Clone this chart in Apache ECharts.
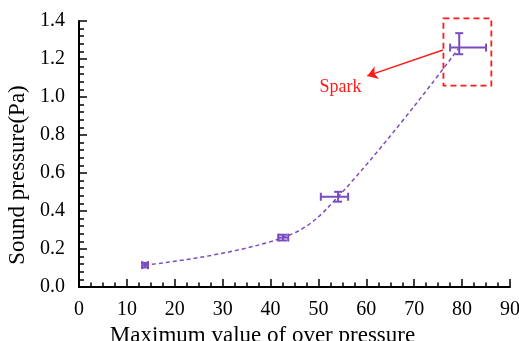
<!DOCTYPE html>
<html><head><meta charset="utf-8">
<script src="https://cdn.jsdelivr.net/npm/echarts@6/dist/echarts.min.js"></script>
<style>html,body{margin:0;padding:0;background:#fff}#c{width:519px;height:341px}</style>
</head><body><div id="c"></div>
<script>
// Data
var xVals = [13.8, 42.6, 54.1, 79.4];
var yVals = [0.115, 0.26, 0.475, 1.26];
var xErrLow = [0.6, 1.0, 3.6, 1.9];
var xErrHigh = [0.6, 1.1, 2.1, 5.6];
var yErrLow = [0.012, 0.015, 0.026, 0.035];
var yErrHigh = [0.012, 0.015, 0.026, 0.076];
var xTicks = [0, 10, 20, 30, 40, 50, 60, 70, 80, 90];
var yTicks = [0.0, 0.2, 0.4, 0.6, 0.8, 1.0, 1.2, 1.4];
// annotation in data coords
var boxX = [76.1, 86.1];
var boxY = [1.06, 1.414];
var arrowFrom = [76.0, 1.247];
var arrowTo = [60.2, 1.111];
var sparkPos = [54.6, 1.05];

var purple = '#7b4cc0';
var red = '#ff1a1a';
var font = '"Liberation Serif", "Times New Roman", serif';

var chart = echarts.init(document.getElementById('c'));
var pts = xVals.map(function (x, i) { return [x, yVals[i]]; });
var errData = xVals.map(function (x, i) {
  return [x, yVals[i], x - xErrLow[i], x + xErrHigh[i], yVals[i] - yErrLow[i], yVals[i] + yErrHigh[i]];
});

var option = {
  animation: false,
  grid: { left: 79, right: 9, top: 21, bottom: 54, containLabel: false, outerBoundsMode: 'none' },
  xAxis: {
    type: 'value', min: 0, max: 90, interval: 10,
    name: 'Maximum value of over pressure', nameLocation: 'middle', nameGap: 32,
    nameTextStyle: { fontFamily: font, fontSize: 23, color: '#000', padding: [0, 64, 0, 0] },
    axisLine: { show: true, onZero: false, lineStyle: { color: '#000', width: 2 } },
    axisTick: { show: true, inside: true, length: 8, lineStyle: { color: '#000', width: 1.5 } },
    minorTick: { show: true, splitNumber: 4, length: 4.5, lineStyle: { color: '#000', width: 1.5 } },
    splitLine: { show: false },
    axisLabel: { fontFamily: font, fontSize: 20, color: '#000', margin: 13,
      formatter: function (v) { return xTicks.indexOf(v) >= 0 ? String(v) : ''; } }
  },
  yAxis: {
    type: 'value', min: 0, max: 1.4, interval: 0.2,
    name: 'Sound pressure(Pa)', nameLocation: 'middle', nameGap: 47,
    nameTextStyle: { fontFamily: font, fontSize: 23, color: '#000', padding: [0, 42, 0, 0] },
    axisLine: { show: true, onZero: false, lineStyle: { color: '#000', width: 2 } },
    axisTick: { show: true, inside: true, length: 8, lineStyle: { color: '#000', width: 1.5 } },
    minorTick: { show: true, splitNumber: 5, length: 5, lineStyle: { color: '#000', width: 1.5 } },
    splitLine: { show: false },
    axisLabel: { fontFamily: font, fontSize: 20, color: '#000', margin: 14,
      formatter: function (v) { var t = yTicks.filter(function (k) { return Math.abs(k - v) < 1e-9; }); return t.length ? t[0].toFixed(1) : ''; } }
  },
  series: [
    {
      type: 'line', data: pts, smooth: 0.4, symbol: 'none',
      lineStyle: { color: purple, width: 1.5, type: [4, 3] }, z: 2,
      markLine: {
        silent: true, symbol: ['none', 'arrow'], symbolSize: 10,
        label: { show: false },
        lineStyle: { color: red, width: 1.5, type: 'solid' },
        itemStyle: { color: red },
        data: [[{ coord: arrowFrom }, { coord: arrowTo }]]
      },
      markPoint: {
        silent: true, symbol: 'circle', symbolSize: 0,
        data: [{ coord: sparkPos, label: { show: true, formatter: 'Spark', color: red, fontFamily: font, fontSize: 18 } }]
      }
    },
    {
      type: 'custom', data: errData, z: 3, clip: false,
      renderItem: function (params, api) {
        var c = api.coord([api.value(0), api.value(1)]);
        var xl = api.coord([api.value(2), api.value(1)]);
        var xh = api.coord([api.value(3), api.value(1)]);
        var yl = api.coord([api.value(0), api.value(4)]);
        var yh = api.coord([api.value(0), api.value(5)]);
        var cap = 4;
        var st = { stroke: purple, lineWidth: 2 };
        return { type: 'group', children: [
          { type: 'line', shape: { x1: xl[0], y1: c[1], x2: xh[0], y2: c[1] }, style: st },
          { type: 'line', shape: { x1: xl[0], y1: c[1] - cap, x2: xl[0], y2: c[1] + cap }, style: st },
          { type: 'line', shape: { x1: xh[0], y1: c[1] - cap, x2: xh[0], y2: c[1] + cap }, style: st },
          { type: 'line', shape: { x1: c[0], y1: yl[1], x2: c[0], y2: yh[1] }, style: st },
          { type: 'line', shape: { x1: c[0] - cap, y1: yl[1], x2: c[0] + cap, y2: yl[1] }, style: st },
          { type: 'line', shape: { x1: c[0] - cap, y1: yh[1], x2: c[0] + cap, y2: yh[1] }, style: st }
        ] };
      }
    }
  ]
};
chart.setOption(option);
var p1 = chart.convertToPixel({ gridIndex: 0 }, [boxX[0], boxY[1]]);
var p2 = chart.convertToPixel({ gridIndex: 0 }, [boxX[1], boxY[0]]);
chart.setOption({ graphic: [{
  type: 'rect', shape: { x: p1[0], y: p1[1], width: p2[0] - p1[0], height: p2[1] - p1[1] },
  style: { fill: 'none', stroke: red, lineWidth: 1.8, lineDash: [6, 4] }, z: 10
}] });
</script></body></html>
